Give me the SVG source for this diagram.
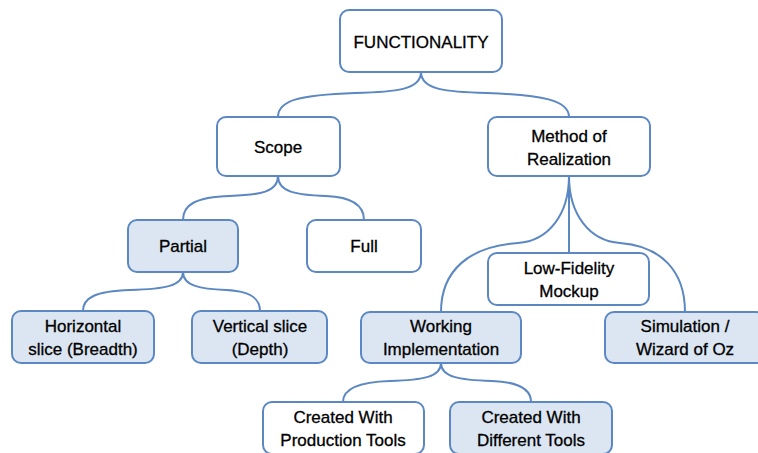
<svg xmlns="http://www.w3.org/2000/svg" width="758" height="453" viewBox="0 0 758 453">
<style>
.b{fill:#fff;stroke:#5b87c2;stroke-width:2}
.s{fill:#dce6f2;stroke:#5b87c2;stroke-width:2}
.c{fill:none;stroke:#5b87c2;stroke-width:2}
text{font-family:"Liberation Sans",Arial,sans-serif;font-size:17px;fill:#000;stroke:#000;stroke-width:0.3;text-anchor:middle}
</style>
<rect width="758" height="453" fill="#fff"/>
<g id="connectors">
<path class="c" d="M421,72 C421,90 395,92 355,93 C300,95 278,100 278,117"/>
<path class="c" d="M421,72 C421,90 447,92 487,93 C542,95 569,100 569,117"/>
<path class="c" d="M278,176 C278,192 260,195 230,196 C195,197 183,205 183,220"/>
<path class="c" d="M278,176 C278,192 296,195 326,196 C352,197 364,205 364,220"/>
<path class="c" d="M183,272 C183,286 165,289 130,290 C95,291 83,298 83,311"/>
<path class="c" d="M183,272 C183,286 201,289 226,290 C250,291 260,298 260,311"/>
<path class="c" d="M569,176 L569,253"/>
<path class="c" d="M569,176 C569,215 548,241 518,243 C470,246 441,270 441,312"/>
<path class="c" d="M569,176 C569,215 590,241 620,243 C660,246 685,270 685,312"/>
<path class="c" d="M441,363 C441,377 423,380 390,381 C355,382 343,390 343,402"/>
<path class="c" d="M441,363 C441,377 459,380 492,381 C520,382 531,390 531,402"/>
</g>
<g id="functionality"><rect class="b" x="340" y="10" width="162" height="62" rx="9"/><text x="421" y="48">FUNCTIONALITY</text></g>
<g id="scope"><rect class="b" x="217" y="117" width="123" height="59" rx="9"/><text x="278" y="153">Scope</text></g>
<g id="method"><rect class="b" x="488" y="117" width="162" height="59" rx="9"/><text x="569" y="142">Method of</text><text x="569" y="165">Realization</text></g>
<g id="partial"><rect class="s" x="128" y="220" width="110" height="52" rx="9"/><text x="183" y="252">Partial</text></g>
<g id="full"><rect class="b" x="307" y="220" width="114" height="52" rx="9"/><text x="364" y="252">Full</text></g>
<g id="horizontal"><rect class="s" x="12" y="311" width="142" height="52" rx="9"/><text x="83" y="332">Horizontal</text><text x="83" y="355">slice (Breadth)</text></g>
<g id="vertical"><rect class="s" x="192" y="311" width="135" height="52" rx="9"/><text x="260" y="332">Vertical slice</text><text x="260" y="355">(Depth)</text></g>
<g id="lowfi"><rect class="b" x="488" y="253" width="161" height="52" rx="9"/><text x="569" y="274">Low-Fidelity</text><text x="569" y="297">Mockup</text></g>
<g id="working"><rect class="s" x="361" y="312" width="160" height="51" rx="9"/><text x="441" y="332">Working</text><text x="441" y="355">Implementation</text></g>
<g id="simulation"><rect class="s" x="605" y="312" width="160" height="51" rx="9"/><text x="685" y="332">Simulation /</text><text x="685" y="355">Wizard of Oz</text></g>
<g id="production"><rect class="b" x="263" y="402" width="161" height="52" rx="9"/><text x="343" y="423">Created With</text><text x="343" y="446">Production Tools</text></g>
<g id="different"><rect class="s" x="450" y="402" width="162" height="52" rx="9"/><text x="531" y="423">Created With</text><text x="531" y="446">Different Tools</text></g>
</svg>
